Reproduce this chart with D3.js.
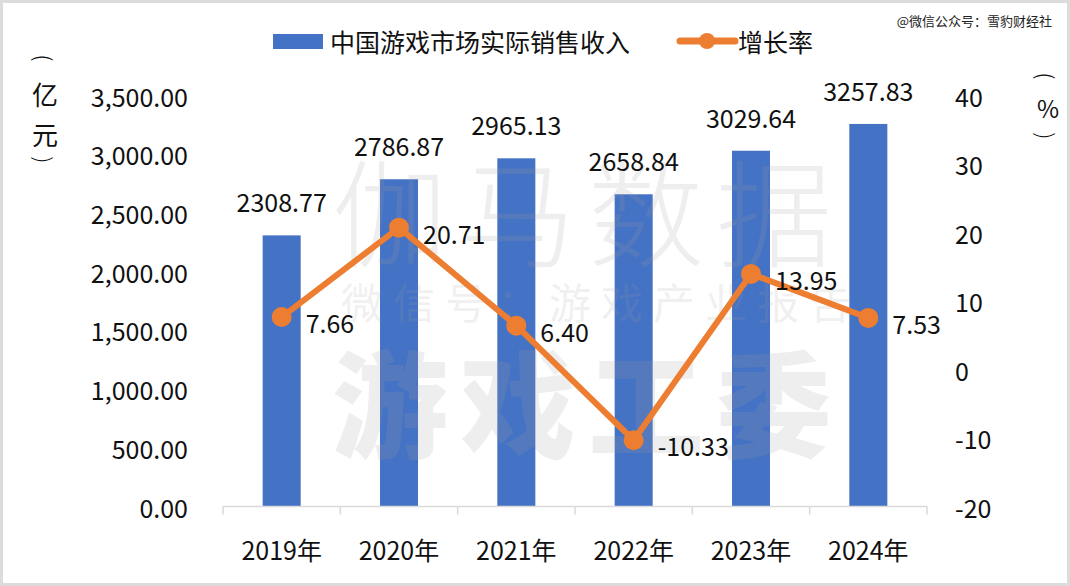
<!DOCTYPE html>
<html><head><meta charset="utf-8">
<script src="https://cdn.jsdelivr.net/npm/d3@7/dist/d3.min.js"></script>
<style>body{margin:0;background:#fff}svg{display:block}text{font-family:"Noto Sans CJK SC","Noto Sans",sans-serif}</style>
</head><body><svg id="c" width="1070" height="586"></svg>
<script>
const categories = ["2019年","2020年","2021年","2022年","2023年","2024年"];
const revenue = [2308.77, 2786.87, 2965.13, 2658.84, 3029.64, 3257.83];
const growth = [7.66, 20.71, 6.40, -10.33, 13.95, 7.53];
const leftTicks = [0,500,1000,1500,2000,2500,3000,3500];
const rightTicks = [-20,-10,0,10,20,30,40];
const seriesNames = ["中国游戏市场实际销售收入","增长率"];

const svg = d3.select("#c");
const W=1070,H=586;
const blue="#4472C4", orange="#ED7D31";
const x = d3.scaleBand().domain(categories).range([223,927]).padding(0);
const yL = d3.scaleLinear().domain([0,3500]).range([506.5,95.5]);
const yR = d3.scaleLinear().domain([-20,40]).range([506.5,95.5]);
const fs = 25;

svg.append("rect").attr("x",1.5).attr("y",1.5).attr("width",W-3).attr("height",H-3).attr("fill","#fff").attr("stroke","#dcdcdc").attr("stroke-width",3);

// left axis labels
svg.append("g").selectAll("text").data(leftTicks).join("text")
 .attr("x",188).attr("y",d=>yL(d)).attr("text-anchor","end").attr("dominant-baseline","central")
 .attr("font-size",fs).attr("fill","#111").text(d=>d3.format(",.2f")(d));
svg.append("g").selectAll("text").data(rightTicks).join("text")
 .attr("x",955).attr("y",d=>yR(d)).attr("text-anchor","start").attr("dominant-baseline","central")
 .attr("font-size",fs).attr("fill","#111").text(d=>d);

// unit labels
const paren=(g,x0,y0,ch)=>g.append("text").attr("transform",`translate(${x0},${y0}) rotate(90)`)
 .attr("text-anchor","middle").attr("dominant-baseline","central").attr("font-size",22).attr("font-weight",300).attr("fill","#111").text(ch);
const ul = svg.append("g");
paren(ul,45,58,"(");
paren(ul,45,160,")");
[["亿",93],["元",133]].forEach(d=>ul.append("text").attr("x",45).attr("y",d[1]).attr("text-anchor","middle").attr("dominant-baseline","central").attr("font-size",26).attr("fill","#111").text(d[0]));
const ur = svg.append("g");
paren(ur,1047,76,"(");
paren(ur,1047,136,")");
ur.append("text").attr("x",1048).attr("y",107).attr("text-anchor","middle").attr("dominant-baseline","central").attr("font-size",24).attr("fill","#111").text("%");

// bars
const bw = x.bandwidth()*0.324;
svg.append("g").selectAll("rect").data(revenue).join("rect")
 .attr("x",(d,i)=>x(categories[i])+x.bandwidth()/2-bw/2).attr("y",d=>yL(d))
 .attr("width",bw).attr("height",d=>yL(0)-yL(d)).attr("fill",blue);

// watermark
const wm = svg.append("g").attr("fill","rgba(160,160,160,0.18)").attr("text-anchor","middle").attr("dominant-baseline","central");
["伽","马","数","据"].forEach((c,i)=>wm.append("text").attr("x",390+i*128).attr("y",207).attr("font-size",116).attr("font-weight",300).text(c));
["微","信","号","：","游","戏","产","业","报","告"].forEach((c,i)=>wm.append("text").attr("x",362+i*52).attr("y",300).attr("font-size",42).text(c));
["游","戏","工","委"].forEach((c,i)=>wm.append("text").attr("x",390+i*128).attr("y",398).attr("font-size",116).attr("font-weight",900).text(c));

// axis line
svg.append("line").attr("x1",223).attr("x2",927).attr("y1",yL(0)).attr("y2",yL(0)).attr("stroke","#d9d9d9").attr("stroke-width",1.5);
svg.append("g").selectAll("line").data(categories.concat(["end"])).join("line")
 .attr("x1",(d,i)=>223+i*x.step()).attr("x2",(d,i)=>223+i*x.step()).attr("y1",yL(0)).attr("y2",yL(0)+8)
 .attr("stroke","#d9d9d9").attr("stroke-width",1.5);
svg.append("g").selectAll("text").data(categories).join("text")
 .attr("x",d=>x(d)+x.bandwidth()/2).attr("y",549).attr("text-anchor","middle").attr("dominant-baseline","central")
 .attr("font-size",fs).attr("fill","#111").text(d=>d);

// bar labels
svg.append("g").selectAll("text").data(revenue).join("text")
 .attr("x",(d,i)=>x(categories[i])+x.bandwidth()/2).attr("y",d=>yL(d)-34).attr("text-anchor","middle")
 .attr("dominant-baseline","central").attr("font-size",fs).attr("fill","#111").text(d=>d.toFixed(2));

// line
const cx=(i)=>x(categories[i])+x.bandwidth()/2;
svg.append("path").datum(growth).attr("fill","none").attr("stroke",orange).attr("stroke-width",6).attr("stroke-linejoin","round")
 .attr("d",d3.line().x((d,i)=>cx(i)).y(d=>yR(d)));
svg.append("g").selectAll("circle").data(growth).join("circle").attr("cx",(d,i)=>cx(i)).attr("cy",d=>yR(d)).attr("r",10).attr("fill",orange);
svg.append("g").selectAll("text").data(growth).join("text")
 .attr("x",(d,i)=>cx(i)+24).attr("y",d=>yR(d)+5).attr("dominant-baseline","central")
 .attr("font-size",fs).attr("fill","#111").text(d=>d.toFixed(2));

// legend
svg.append("rect").attr("x",273).attr("y",34).attr("width",50).attr("height",15).attr("fill",blue);
svg.append("text").attr("x",330).attr("y",41).attr("dominant-baseline","central").attr("font-size",fs).attr("fill","#111").text(seriesNames[0]);
svg.append("line").attr("x1",680).attr("x2",735).attr("y1",41).attr("y2",41).attr("stroke",orange).attr("stroke-width",7).attr("stroke-linecap","round");
svg.append("circle").attr("cx",707).attr("cy",41).attr("r",8).attr("fill",orange);
svg.append("text").attr("x",738).attr("y",41).attr("dominant-baseline","central").attr("font-size",fs).attr("fill","#111").text(seriesNames[1]);

svg.append("text").attr("x",1052).attr("y",20).attr("text-anchor","end").attr("dominant-baseline","central").attr("font-size",13).attr("fill","#222").text("@微信公众号：雪豹财经社");
</script></body></html>
